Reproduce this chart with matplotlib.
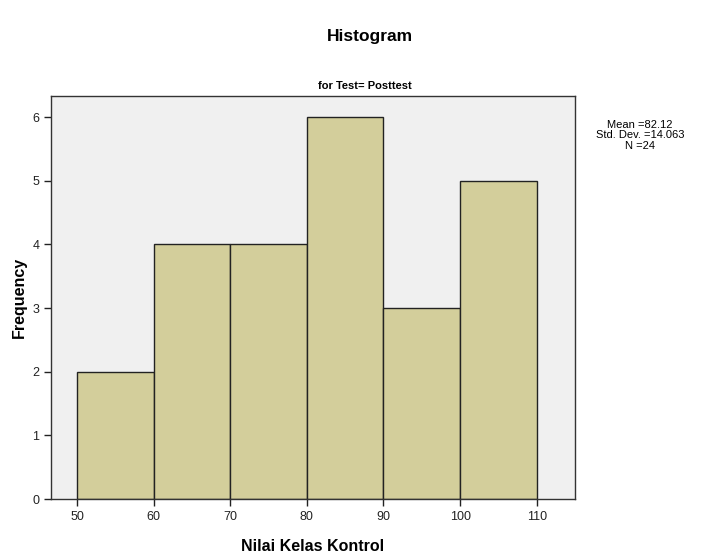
import numpy as np
import matplotlib
matplotlib.use("Agg")
import matplotlib.pyplot as plt

plt.rcParams['font.family'] = ['Liberation Sans', 'DejaVu Sans']

# histogram data
bin_edges = [50, 60, 70, 80, 90, 100, 110]
counts = [2, 4, 4, 6, 3, 5]
x_ticks = [50, 60, 70, 80, 90, 100, 110]
y_ticks = [0, 1, 2, 3, 4, 5, 6]
stats_lines = ["Mean =82.12", "Std. Dev. =14.063", "N =24"]

fig = plt.figure(figsize=(7.09, 5.56), dpi=100)
ax = fig.add_axes([0.072, 0.1025, 0.739, 0.7245])
ax.set_facecolor('#f0f0f0')

widths = np.diff(bin_edges)
ax.bar(bin_edges[:-1], counts, width=widths, align='edge',
       color='#d3ce9b', edgecolor='#222222', linewidth=1.0)

ax.set_xlim(46.6, 115)
ax.set_ylim(0, 6.33)
ax.set_xticks(x_ticks)
ax.set_yticks(y_ticks)
ax.tick_params(axis='both', direction='out', length=5, width=1,
               labelsize=9, colors='#222222')
for s in ax.spines.values():
    s.set_color('#333333')
    s.set_linewidth(1.0)

ax.set_xlabel('Nilai Kelas Kontrol', fontsize=11.5, fontweight='bold', labelpad=12)
ax.set_ylabel('Frequency', fontsize=11.5, fontweight='bold', labelpad=4)

fig.text(0.522, 0.935, 'Histogram', ha='center', va='center',
         fontsize=12.5, fontweight='bold')
fig.text(0.515, 0.845, 'for Test= Posttest', ha='center', va='center',
         fontsize=8, fontweight='bold')
fig.text(0.903, 0.757, "\n".join(stats_lines), ha='center', va='center',
         fontsize=8, linespacing=1.05)

fig.savefig('out.png', dpi=100)
